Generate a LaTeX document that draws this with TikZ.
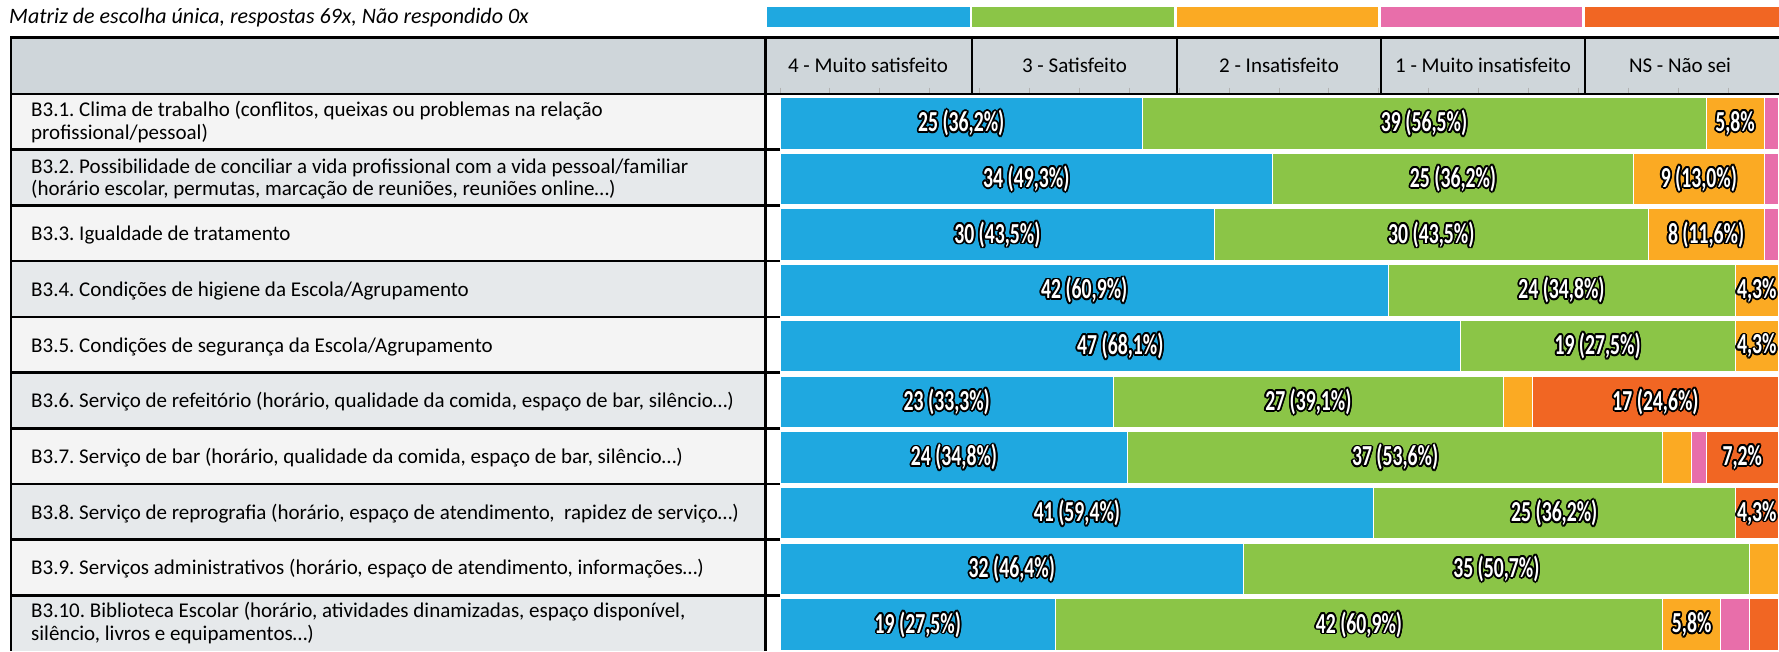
\documentclass[tikz,border=0pt]{standalone}
\usepackage{fontspec}
\setmainfont{Carlito}
\usepackage{graphicx}
\usetikzlibrary{calc}
\frenchspacing
\definecolor{cblue}{RGB}{31,168,224}
\definecolor{cgreen}{RGB}{139,197,71}
\definecolor{corange}{RGB}{251,170,35}
\definecolor{cpink}{RGB}{232,110,170}
\definecolor{cred}{RGB}{241,102,35}
\definecolor{hdrgray}{RGB}{207,214,218}
\definecolor{rowlight}{RGB}{244,244,244}
\definecolor{rowdark}{RGB}{230,233,235}
\newcommand{\barseg}[5]{%
  \pgfmathsetmacro{\xa}{780+#3*14.4638}%
  \pgfmathsetmacro{\ww}{(#4-#3)*14.4638}%
  \node[seg, fill=#5, minimum width=\ww pt] (#1) at (\xa,#2+3) {};}
\newcommand{\olabel}[3]{%
  \foreach \a in {0,30,...,330}{\node[barlbl,text=black] (#1o\a) at ($(#2)+(\a:1.8)$) {\scalebox{0.68}[1]{#3}};}
  \node[barlbl,text=white] (#1) at (#2) {\scalebox{0.68}[1]{#3}};}
\begin{document}
\frenchspacing
\begin{tikzpicture}[x=1pt,y=-1pt,
  lbl/.style={font=\fontsize{21}{22}\selectfont\frenchspacing, anchor=base west, inner sep=0pt},
  hdr/.style={font=\fontsize{21}{22}\selectfont, anchor=base, inner sep=0pt},
  seg/.style={draw=white, line width=0.8pt, inner sep=0pt, anchor=north west, minimum height=51.5pt},
  barlbl/.style={font=\fontsize{29}{29}\selectfont\bfseries, inner sep=0pt},
  tbl/.style={line width=2.6pt, black},
]
\useasboundingbox (0,0) rectangle (1779,651);
\fill[white] (0,0) rectangle (1779,651);
% title
\node[font=\fontsize{22}{23}\selectfont\itshape, anchor=base west, inner sep=0pt] (title) at (9,23) {Matriz de escolha única, respostas 69x, Não respondido 0x};
% legend
\fill[cblue] (767,7) rectangle (970,26.5);
\fill[cgreen] (972,7) rectangle (1174,26.5);
\fill[corange] (1177,7) rectangle (1378,26.5);
\fill[cpink] (1381,7) rectangle (1582,26.5);
\fill[cred] (1585,7) rectangle (1779,26.5);
% header
\fill[hdrgray] (11,37.5) rectangle (1779,94);
\foreach \i in {1,...,10}{
  \pgfmathsetmacro{\rt}{94+(\i-1)*55.7}
  \pgfmathtruncatemacro{\odd}{mod(\i,2)}
  \ifnum\odd=1 \fill[rowlight] (11,\rt) rectangle (765,\rt+55.7); \else \fill[rowdark] (11,\rt) rectangle (765,\rt+55.7); \fi
}
\node[hdr] (h4) at (868,72.7) {4 - Muito satisfeito};
\node[hdr] (h3) at (1074.5,72.7) {3 - Satisfeito};
\node[hdr] (h2) at (1279,72.7) {2 - Insatisfeito};
\node[hdr] (h1) at (1483,72.7) {1 - Muito insatisfeito};
\node[hdr] (hns) at (1680,72.7) {NS - Não sei};
% grid ticks
\foreach \k in {0,...,19}{\draw[gray!60, line width=1pt] (780+\k*49.9,87.5) -- (780+\k*49.9,94);}
% table lines
\draw[tbl] (11,37.5) -- (1779,37.5);
\draw[tbl] (11,94) -- (1779,94);
\draw[tbl] (11,36.2) -- (11,651);
\draw[tbl] (765.5,36.2) -- (765.5,651);
\foreach \x in {972,1177,1381,1585}{\draw[tbl] (\x,37.5) -- (\x,94);}
\foreach \i in {1,...,9}{\draw[tbl] (11,94+\i*55.7) -- (780,94+\i*55.7);}
% row labels
\node[lbl] (l1a) at (31,116.5) {B3.1. Clima de trabalho (conflitos, queixas ou problemas na relação};
\node[lbl] (l1b) at (31,139.5) {profissional/pessoal)};
\node[lbl] (l2a) at (31,173.2) {B3.2. Possibilidade de conciliar a vida profissional com a vida pessoal/familiar};
\node[lbl] (l2b) at (31,195.7) {(horário escolar, permutas, marcação de reuniões, reuniões online…)};
\node[lbl] (l3) at (31,240.6) {B3.3. Igualdade de tratamento};
\node[lbl] (l4) at (31,296.3) {B3.4. Condições de higiene da Escola/Agrupamento};
\node[lbl] (l5) at (31,352) {B3.5. Condições de segurança da Escola/Agrupamento};
\node[lbl] (l6) at (31,407.7) {B3.6. Serviço de refeitório (horário, qualidade da comida, espaço de bar, silêncio…)};
\node[lbl] (l7) at (31,463.4) {B3.7. Serviço de bar (horário, qualidade da comida, espaço de bar, silêncio…)};
\node[lbl] (l8) at (31,519.1) {B3.8. Serviço de reprografia (horário, espaço de atendimento,\ \ rapidez de serviço…)};
\node[lbl] (l9) at (31,574.8) {B3.9. Serviços administrativos (horário, espaço de atendimento, informações…)};
\node[lbl] (l10a) at (31,617.8) {B3.10. Biblioteca Escolar (horário, atividades dinamizadas, espaço disponível,};
\node[lbl] (l10b) at (31,640.8) {silêncio, livros e equipamentos…)};
% bars
% row 1
\barseg{s1a}{94}{0}{25}{cblue}\barseg{s1b}{94}{25}{64}{cgreen}\barseg{s1c}{94}{64}{68}{corange}\barseg{s1d}{94}{68}{69}{cpink}
\olabel{t1a}{s1a.center}{25 (36,2\%)}\olabel{t1b}{s1b.center}{39 (56,5\%)}\olabel{t1c}{s1c.center}{5,8\%}
% row 2
\barseg{s2a}{149.7}{0}{34}{cblue}\barseg{s2b}{149.7}{34}{59}{cgreen}\barseg{s2c}{149.7}{59}{68}{corange}\barseg{s2d}{149.7}{68}{69}{cpink}
\olabel{t2a}{s2a.center}{34 (49,3\%)}\olabel{t2b}{s2b.center}{25 (36,2\%)}\olabel{t2c}{s2c.center}{9 (13,0\%)}
% row 3
\barseg{s3a}{205.4}{0}{30}{cblue}\barseg{s3b}{205.4}{30}{60}{cgreen}\barseg{s3c}{205.4}{60}{68}{corange}\barseg{s3d}{205.4}{68}{69}{cpink}
\olabel{t3a}{s3a.center}{30 (43,5\%)}\olabel{t3b}{s3b.center}{30 (43,5\%)}\olabel{t3c}{s3c.center}{8 (11,6\%)}
% row 4
\barseg{s4a}{261.1}{0}{42}{cblue}\barseg{s4b}{261.1}{42}{66}{cgreen}\barseg{s4c}{261.1}{66}{69}{corange}
\olabel{t4a}{s4a.center}{42 (60,9\%)}\olabel{t4b}{s4b.center}{24 (34,8\%)}\olabel{t4c}{s4c.center}{4,3\%}
% row 5
\barseg{s5a}{316.8}{0}{47}{cblue}\barseg{s5b}{316.8}{47}{66}{cgreen}\barseg{s5c}{316.8}{66}{69}{corange}
\olabel{t5a}{s5a.center}{47 (68,1\%)}\olabel{t5b}{s5b.center}{19 (27,5\%)}\olabel{t5c}{s5c.center}{4,3\%}
% row 6
\barseg{s6a}{372.5}{0}{23}{cblue}\barseg{s6b}{372.5}{23}{50}{cgreen}\barseg{s6c}{372.5}{50}{52}{corange}\barseg{s6e}{372.5}{52}{69}{cred}
\olabel{t6a}{s6a.center}{23 (33,3\%)}\olabel{t6b}{s6b.center}{27 (39,1\%)}\olabel{t6e}{s6e.center}{17 (24,6\%)}
% row 7
\barseg{s7a}{428.2}{0}{24}{cblue}\barseg{s7b}{428.2}{24}{61}{cgreen}\barseg{s7c}{428.2}{61}{63}{corange}\barseg{s7d}{428.2}{63}{64}{cpink}\barseg{s7e}{428.2}{64}{69}{cred}
\olabel{t7a}{s7a.center}{24 (34,8\%)}\olabel{t7b}{s7b.center}{37 (53,6\%)}\olabel{t7e}{s7e.center}{7,2\%}
% row 8
\barseg{s8a}{483.9}{0}{41}{cblue}\barseg{s8b}{483.9}{41}{66}{cgreen}\barseg{s8e}{483.9}{66}{69}{cred}
\olabel{t8a}{s8a.center}{41 (59,4\%)}\olabel{t8b}{s8b.center}{25 (36,2\%)}\olabel{t8e}{s8e.center}{4,3\%}
% row 9
\barseg{s9a}{539.6}{0}{32}{cblue}\barseg{s9b}{539.6}{32}{67}{cgreen}\barseg{s9c}{539.6}{67}{69}{corange}
\olabel{t9a}{s9a.center}{32 (46,4\%)}\olabel{t9b}{s9b.center}{35 (50,7\%)}
% row 10
\barseg{s10a}{595.3}{0}{19}{cblue}\barseg{s10b}{595.3}{19}{61}{cgreen}\barseg{s10c}{595.3}{61}{65}{corange}\barseg{s10d}{595.3}{65}{67}{cpink}\barseg{s10e}{595.3}{67}{69}{cred}
\olabel{t10a}{s10a.center}{19 (27,5\%)}\olabel{t10b}{s10b.center}{42 (60,9\%)}\olabel{t10c}{s10c.center}{5,8\%}
\end{tikzpicture}
\end{document}
